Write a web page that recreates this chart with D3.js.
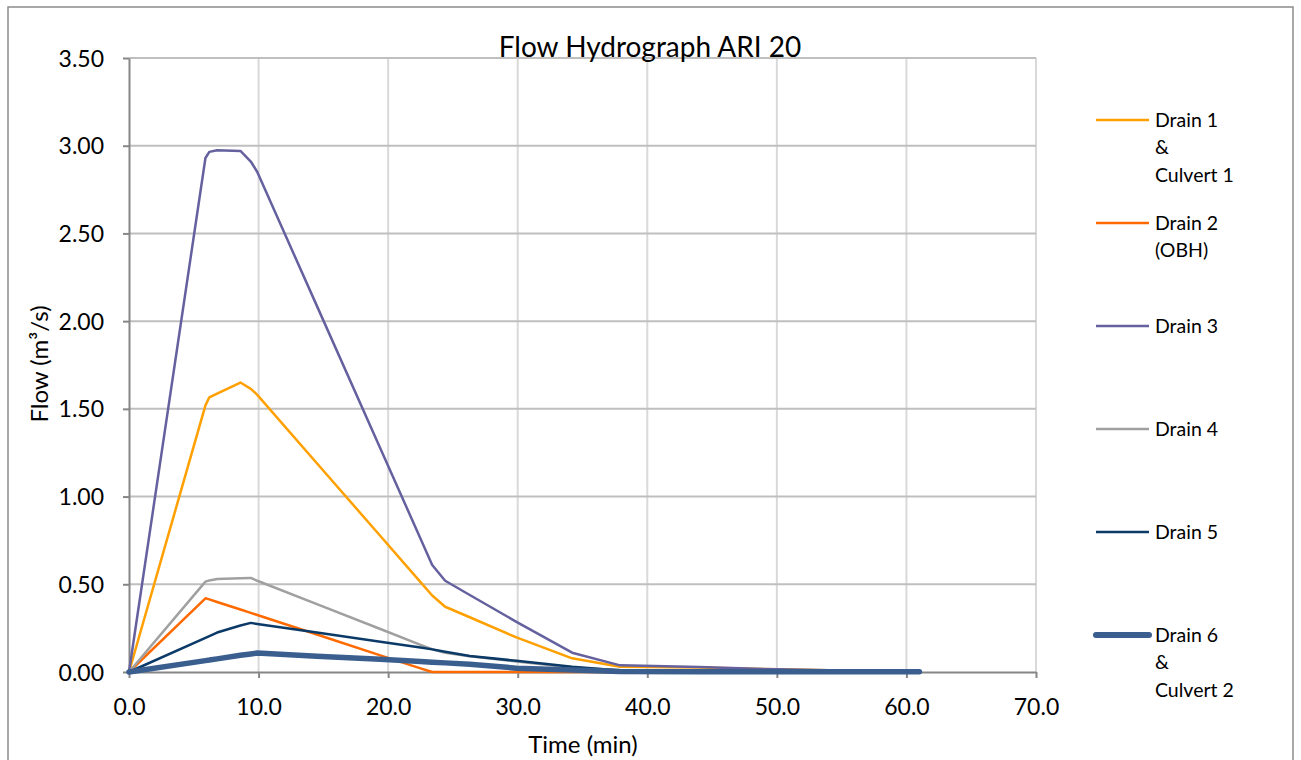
<!DOCTYPE html>
<html><head><meta charset="utf-8">
<script src="https://cdn.jsdelivr.net/npm/d3@7/dist/d3.min.js"></script>
<style>body{margin:0;background:#fff}svg{display:block;font-family:Lato,"Open Sans",sans-serif}</style>
</head><body><svg id="c" width="1301" height="760"></svg>
<script>
// ---- data ----
const time = [0, 5.9, 6.2, 6.8, 8.6, 9.4, 9.9, 14.5, 19.4, 22.5, 23.4, 24.4, 26.3, 29.9, 34.2, 37.9, 44, 50, 55, 61];
const drain1 = [0, 1.52, 1.566, 1.587, 1.65, 1.614, 1.58, 1.19, 0.775, 0.512, 0.436, 0.372, 0.312, 0.197, 0.078, 0.03, 0.026, 0.015, 0.008, 0.004];
const drain2 = [0, 0.42, 0.414, 0.399, 0.356, 0.337, 0.325, 0.214, 0.095, 0.021, 0, 0, 0, 0, 0, 0, 0, 0, 0, 0];
const drain3 = [0, 2.93, 2.965, 2.974, 2.97, 2.91, 2.85, 2.087, 1.274, 0.76, 0.61, 0.52, 0.439, 0.286, 0.11, 0.038, 0.028, 0.015, 0.008, 0.004];
const drain4 = [0, 0.515, 0.522, 0.53, 0.534, 0.536, 0.52, 0.387, 0.245, 0.155, 0.13, 0.11, 0.09, 0.06, 0.025, 0.01, 0.007, 0.004, 0.002, 0.001];
const drain5 = [0, 0.195, 0.205, 0.225, 0.265, 0.28, 0.274, 0.225, 0.173, 0.14, 0.129, 0.115, 0.091, 0.064, 0.03, 0.008, 0.005, 0.003, 0.002, 0.001];
const drain6 = [0, 0.065, 0.068, 0.075, 0.095, 0.103, 0.108, 0.09, 0.072, 0.06, 0.056, 0.052, 0.044, 0.022, 0.012, 0.003, 0.002, 0.001, 0.001, 0.001];
const seriesNames = [["Drain 1","&","Culvert 1"],["Drain 2","(OBH)"],["Drain 3"],["Drain 4"],["Drain 5"],["Drain 6","&","Culvert 2"]];
const seriesValues = [drain1, drain2, drain3, drain4, drain5, drain6];
const seriesColors = ["#FFA000","#FF6A00","#64619E","#A0A0A0","#0B3A68","#3A5E8E"];
const seriesWidths = [2.5, 2.5, 2.5, 2.5, 2.5, 5.5];
const xTicks = [0,10,20,30,40,50,60,70];
const yTicks = [0,0.5,1,1.5,2,2.5,3,3.5];

// ---- chart ----
const svg = d3.select("#c");
svg.append("rect").attr("x",8).attr("y",7).attr("width",1285).attr("height",770)
  .attr("fill","#fff").attr("stroke","#8C8C8C").attr("stroke-width",1.5);

const x = d3.scaleLinear().domain([0,70]).range([129,1036]);
const y = d3.scaleLinear().domain([0,3.5]).range([672,58]);

// gridlines
svg.append("g").selectAll("line").data(xTicks.slice(1)).join("line")
  .attr("x1",d=>x(d)).attr("x2",d=>x(d)).attr("y1",y(0)).attr("y2",y(3.5))
  .attr("stroke","#D9D9D9").attr("stroke-width",2);
svg.append("g").selectAll("line").data(yTicks.slice(1)).join("line")
  .attr("x1",x(0)).attr("x2",x(70)).attr("y1",d=>y(d)).attr("y2",d=>y(d))
  .attr("stroke","#BFBFBF").attr("stroke-width",2);

// axes
const xAxis = d3.axisBottom(x).tickValues(xTicks).tickFormat(d3.format(".1f")).tickSize(6).tickSizeOuter(0);
const yAxis = d3.axisLeft(y).tickValues(yTicks).tickFormat(d3.format(".2f")).tickSize(6).tickSizeOuter(0);
const gx = svg.append("g").attr("transform",`translate(0,${y(0)})`).call(xAxis);
const gy = svg.append("g").attr("transform",`translate(${x(0)},0)`).call(yAxis);
[gx,gy].forEach(g=>{
  g.select(".domain").attr("stroke","#868686").attr("stroke-width",2);
  g.selectAll(".tick line").attr("stroke","#868686").attr("stroke-width",2);
  g.selectAll(".tick text").attr("fill","#000").style("font-size","23px").style("font-family","Lato");
});
gx.selectAll(".tick text").attr("dy","0").attr("y",43);
gy.selectAll(".tick text").attr("x",-25).attr("dy","0.35em");

// series
const line = d3.line().x(d=>x(d[0])).y(d=>y(d[1]));
seriesValues.forEach((vals,i)=>{
  svg.append("path").datum(time.map((t,j)=>[t,vals[j]]))
    .attr("d",line).attr("fill","none").attr("stroke",seriesColors[i])
    .attr("stroke-width",seriesWidths[i]).attr("stroke-linejoin","round").attr("stroke-linecap","round");
});

// title and axis titles
svg.append("text").attr("x",650).attr("y",57).attr("text-anchor","middle")
  .style("font-size","28px").text("Flow Hydrograph ARI 20");
svg.append("text").attr("x",583).attr("y",753).attr("text-anchor","middle")
  .style("font-size","24px").text("Time (min)");
svg.append("text").attr("transform","translate(48,364) rotate(-90)").attr("text-anchor","middle")
  .style("font-size","24px").text("Flow (m³/s)");

// legend
const lg = svg.append("g");
seriesNames.forEach((lines,i)=>{
  const yy = 120 + i*103;
  lg.append("line").attr("x1",1096).attr("x2",1149).attr("y1",yy).attr("y2",yy)
    .attr("stroke",seriesColors[i]).attr("stroke-width",i===5?6:2.5)
    .attr("stroke-linecap",i===5?"round":"butt");
  const t = lg.append("text").attr("x",1155).attr("y",yy).style("font-size","19.5px");
  lines.forEach((s,k)=>t.append("tspan").attr("x",1155).attr("y",yy+k*27.5).attr("dy","0.35em").text(s));
});
</script></body></html>
